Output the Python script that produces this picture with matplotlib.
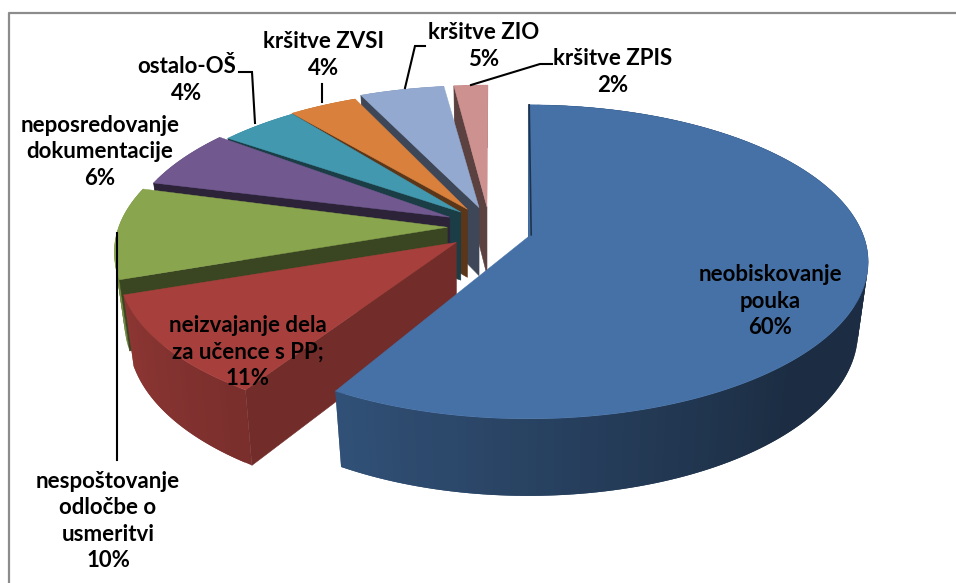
import matplotlib
matplotlib.use('Agg')
import matplotlib.pyplot as plt
import numpy as np

# slice sizes as they are drawn, clockwise from 12 o'clock
categories = ['neobiskovanje\npouka', 'neizvajanje dela\nza učence s PP;',
              'nespoštovanje\nodločbe o\nusmeritvi', 'neposredovanje\ndokumentacije',
              'ostalo-OŠ', 'kršitve ZVSI', 'kršitve ZIO', 'kršitve ZPIS']
percent_labels = ['60%', '11%', '10%', '6%', '4%', '4%', '5%', '2%']
shares = [59.6, 12.6, 9.4, 5.6, 3.9, 3.3, 4.0, 1.6]
colors = ['#4571a7', '#a7403d', '#89a54e', '#71588f',
          '#4198af', '#d9813c', '#93a9cf', '#cd9190']
side_shades = [0.45, 0.68, 0.42, 0.40, 0.40, 0.42, 0.42, 0.45]

# perspective corrections per slice, in pixels
start_pads = [0, 4.2, 0, 0, 0, 0, 0, 0]
rim_nudges = [(0, 0), (2, 0), (4, 0), (8, 4), (8, 10), (0, 12), (-3, 10), (0, 10)]
apex_nudges = [0, 0, -3, -7, -4, -5, -2, -1]

label_centers = [(770, 301), (248, 352), (108, 521), (100, 152),
                 (187, 80), (324, 55), (484, 46), (613, 72)]
leaders = [[(117, 233), (117, 460)],
           [(239, 72), (252, 72), (255, 123)],
           [(322, 84), (322, 102)],
           [(425, 46), (415, 46), (405, 88)],
           [(552, 64), (540, 64), (471, 85)]]

plt.rcParams['font.family'] = ['Lato', 'DejaVu Sans']

CENTER = (490, 255)
EXPLODE = (40, 23)
RX, RY = 340, 157
DROP = 70


def rim(cx, cy, angles, bottom=False):
    rad = np.radians(angles)
    if bottom:
        return cx + 0.97 * RX * np.sin(rad), cy + DROP - 1.045 * RY * np.cos(rad)
    return cx + RX * np.sin(rad), cy - RY * np.cos(rad)


def scaled(color, factor):
    return tuple(c * factor for c in matplotlib.colors.to_rgb(color))


def wall_shade(angle):
    return np.interp(angle, [130, 216, 262], [0.40, 0.72, 0.85])


def draw_slice(ax, i, start, end):
    mid = np.radians((start + end) / 2)
    base_x = CENTER[0] + EXPLODE[0] * np.sin(mid)
    base_y = CENTER[1] - EXPLODE[1] * np.cos(mid)
    cx = base_x + rim_nudges[i][0]
    cy = base_y + rim_nudges[i][1]
    apex_x = base_x + apex_nudges[i]
    apex_y = base_y - 25
    apex_bottom_y = base_y + DROP - 27
    color = colors[i]
    start = start + start_pads[i]

    # outer wall, each piece overlaps the next so no seams show
    steps = np.arange(start, end + 1.5, 1.5)
    steps[-1] = end
    for a, b in zip(steps[:-1], steps[1:]):
        stop = min(b + 1.5, end)
        x1, y1 = rim(cx, cy, np.array([a, stop]))
        x2, y2 = rim(cx, cy, np.array([stop, a]), bottom=True)
        wall = scaled(color, wall_shade((a + b) / 2))
        ax.fill(np.r_[x1, x2], np.r_[y1, y2], color=wall, lw=0)

    # cut face on the start side
    x1, y1 = rim(cx, cy, start)
    x2, y2 = rim(cx, cy, start, bottom=True)
    ax.fill([x1, apex_x, apex_x, x2], [y1, apex_y, apex_bottom_y, y2],
            color=scaled(color, side_shades[i]), lw=0.4)

    # top face
    xs, ys = rim(cx, cy, np.linspace(start, end, 120))
    ax.fill(np.r_[apex_x, xs], np.r_[apex_y, ys], color=color, lw=0.3)

    if i == 0:
        ax.plot([x1 + 1, apex_x + 3], [y1, apex_y - 2], color=scaled(color, 0.45), lw=1.2)


def main():
    fig = plt.figure(figsize=(9.56, 5.83), dpi=100)
    ax = fig.add_axes([0, 0, 1, 1])
    ax.set_xlim(0, 956)
    ax.set_ylim(583, 0)
    ax.axis('off')

    # chart frame, only top and left are inside the crop
    ax.plot([9, 9, 956], [583, 13, 13], color='#8c8c8c', lw=1.6)

    edges = np.r_[0, np.cumsum(shares)] / sum(shares) * 360
    for i in reversed(range(len(shares))):
        draw_slice(ax, i, edges[i], edges[i + 1])

    for line in leaders:
        xs, ys = zip(*line)
        ax.plot(xs, ys, color='black', lw=1.5, solid_joinstyle='miter')

    for name, pct, (x, y) in zip(categories, percent_labels, label_centers):
        ax.text(x, y, name + '\n' + pct, ha='center', va='center', fontsize=16,
                fontweight='bold', linespacing=1.33, color='black')

    fig.savefig('out.png', dpi=100)


main()
